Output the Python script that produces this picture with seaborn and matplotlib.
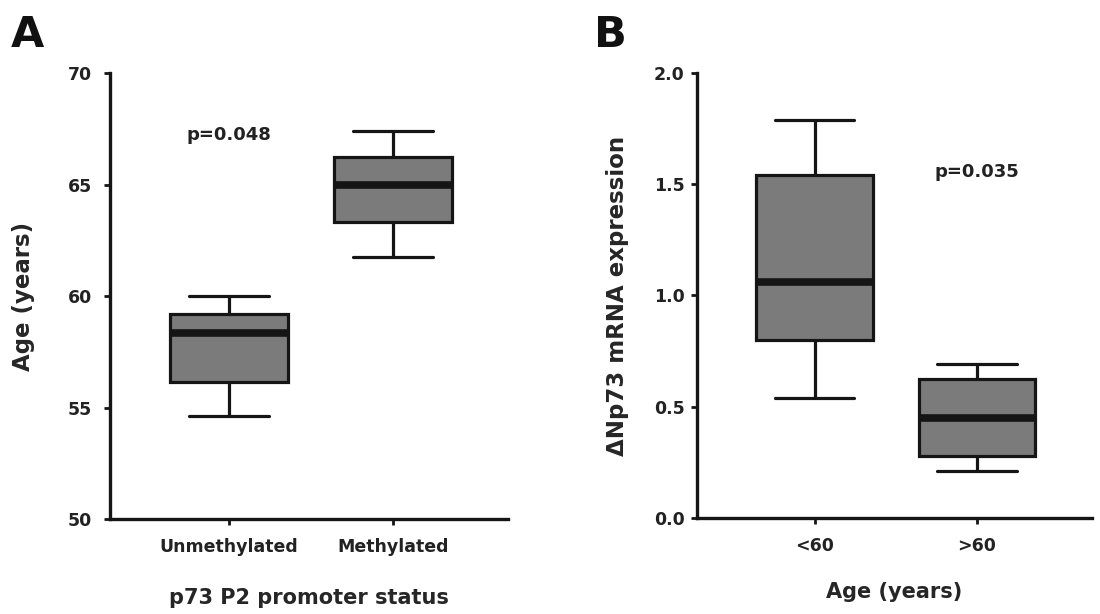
import numpy as np
import pandas as pd
import matplotlib
matplotlib.use("Agg")
import matplotlib.pyplot as plt
import seaborn as sns

sns.set_style("ticks")
plt.rcParams['font.family'] = ['DejaVu Sans']
plt.rcParams['font.weight'] = 'bold'

# panel A: five-number summaries (min, q1, median, q3, max)
status = ["Unmethylated", "Methylated"]
age_unmeth = [54.6, 56.15, 58.35, 59.2, 60.0]
age_meth = [61.75, 63.3, 64.97, 66.23, 67.4]

# panel B
age_group = ["<60", ">60"]
dnp73_young = [0.54, 0.80, 1.06, 1.54, 1.79]
dnp73_old = [0.21, 0.28, 0.45, 0.625, 0.69]

dfA = pd.DataFrame({"status": [status[0]] * 5 + [status[1]] * 5,
                    "age": age_unmeth + age_meth})
dfB = pd.DataFrame({"group": [age_group[0]] * 5 + [age_group[1]] * 5,
                    "expr": dnp73_young + dnp73_old})

ink = "#151515"
box_kws = dict(color="#7b7b7b", linecolor=ink, linewidth=2.3, width=0.72,
               whis=(0, 100), showfliers=False, saturation=1,
               medianprops=dict(linewidth=5.5, color=ink), capwidths=0.49)

fig = plt.figure(figsize=(11, 6.14), dpi=100)
axA = fig.add_axes([0.1, 0.1547, 0.3618, 0.7264])
axB = fig.add_axes([0.6336, 0.1564, 0.3591, 0.7247])

sns.boxplot(data=dfA, x="status", y="age", order=status, ax=axA, **box_kws)
sns.boxplot(data=dfB, x="group", y="expr", order=age_group, ax=axB, **box_kws)

for ax in (axA, axB):
    sns.despine(ax=ax)
    for s in ("left", "bottom"):
        ax.spines[s].set_linewidth(2.4)
        ax.spines[s].set_color(ink)
    ax.tick_params(axis="both", direction="out", length=4, width=2, color=ink,
                   labelsize=12.5, labelcolor="#222222")
    ax.tick_params(axis="x", pad=10)

axA.set_xlim(-0.726, 1.70)
axA.set_ylim(50, 70)
axA.set_yticks([50, 55, 60, 65, 70])
axA.tick_params(axis="y", pad=9)
axA.set_xlabel("p73 P2 promoter status", fontsize=15, fontweight="bold", va="top")
axA.set_ylabel("Age (years)", fontsize=16.5, fontweight="bold")
axA.xaxis.set_label_coords(0.5, -0.155)
axA.yaxis.set_label_coords(-0.188, 0.5)
axA.text(0, 67.2, "p=0.048", ha="center", va="center", fontsize=13, fontweight="bold", color="#222222")

axB.set_xlim(-0.724, 1.708)
axB.set_ylim(0, 2.0)
axB.set_yticks([0, 0.5, 1.0, 1.5, 2.0])
axB.set_yticklabels(["0.0", "0.5", "1.0", "1.5", "2.0"])
axB.tick_params(axis="y", pad=5)
axB.set_xlabel("Age (years)", fontsize=15, fontweight="bold", va="top")
axB.set_ylabel("ΔNp73 mRNA expression", fontsize=16.5, fontweight="bold")
axB.xaxis.set_label_coords(0.5, -0.144)
axB.yaxis.set_label_coords(-0.172, 0.5)
axB.text(1, 1.555, "p=0.035", ha="center", va="center", fontsize=13, fontweight="bold", color="#222222")

fig.text(0.010, 0.978, "A", fontsize=31, fontweight="bold", va="top", ha="left", color="#111111")
fig.text(0.540, 0.978, "B", fontsize=31, fontweight="bold", va="top", ha="left", color="#111111")

fig.savefig("out.png", dpi=100)
